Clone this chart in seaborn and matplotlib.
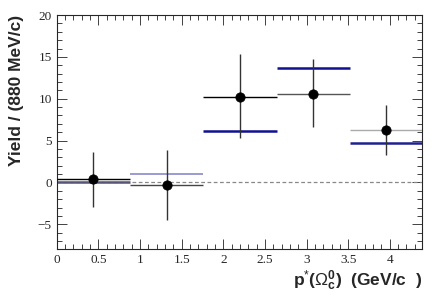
import numpy as np
import matplotlib.pyplot as plt
import seaborn as sns
from matplotlib.ticker import MultipleLocator, FormatStrFormatter

# bin edges in p* (GeV/c), 880 MeV/c wide
bin_lo = [0.00, 0.88, 1.76, 2.64, 3.52]
bin_hi = [0.88, 1.76, 2.64, 3.52, 4.40]
p_center = [0.44, 1.32, 2.20, 3.08, 3.96]

# measured yield with asymmetric errors
yield_data = [0.35, -0.3, 10.2, 10.6, 6.3]
err_low = [3.25, 4.2, 4.9, 4.0, 3.0]
err_high = [3.25, 4.2, 5.1, 4.1, 3.0]

# expectation (blue histogram)
yield_model = [0.05, 1.0, 6.1, 13.7, 4.7]

sns.set_style('ticks')
plt.rcParams['font.family'] = ['Liberation Serif', 'DejaVu Serif']
plt.rcParams['mathtext.fontset'] = 'custom'
plt.rcParams['mathtext.rm'] = 'Liberation Sans'
plt.rcParams['mathtext.it'] = 'Liberation Sans'
plt.rcParams['mathtext.bf'] = 'Liberation Sans:bold'

fig = plt.figure(figsize=(4.41, 2.99), dpi=100)
ax = fig.add_axes([0.1286, 0.166, 0.829, 0.7836])

ax.axhline(0, color='#888888', ls=(0, (3, 2)), lw=0.9, zorder=1)

model_colors = ['#555577', '#8080c8', '#101090', '#101090', '#202090']
data_colors = ['#000000', '#444444', '#000000', '#555555', '#aaaaaa']
for lo, hi, m, d, mc, dc in zip(bin_lo, bin_hi, yield_model, yield_data,
                                model_colors, data_colors):
    ax.hlines(m, lo, hi, color=mc, lw=1.8 if mc != '#8080c8' else 1.1, zorder=2)
    ax.hlines(d, lo, hi, color=dc, lw=1.0, zorder=3)

ax.errorbar(p_center, yield_data, yerr=[err_low, err_high], fmt='none',
            ecolor='#333333', elinewidth=1.0, capsize=0, zorder=3)
sns.scatterplot(x=p_center, y=yield_data, color='black', s=45,
                edgecolor='black', zorder=4, ax=ax)

ax.set_xlim(0, 4.39)
ax.set_ylim(-8, 20)
ax.xaxis.set_major_locator(MultipleLocator(0.5))
ax.xaxis.set_minor_locator(MultipleLocator(0.1))
ax.xaxis.set_major_formatter(FormatStrFormatter('%g'))
ax.yaxis.set_major_locator(MultipleLocator(5))
ax.yaxis.set_minor_locator(MultipleLocator(1))
ax.tick_params(which='both', direction='in', top=True, right=True,
               labelsize=9.5, width=0.6, color='#222222')
ax.tick_params(which='major', length=7)
ax.tick_params(which='minor', length=3.5)
for s in ax.spines.values():
    s.set_linewidth(0.8)

ax.set_ylabel('Yield / (880 MeV/c)', family='Liberation Sans', fontweight='bold',
              fontsize=12.5, loc='top', labelpad=10)
ax.set_xlabel(r'p$^{*}$($\Omega_{\mathbf{c}}^{\mathbf{0}}$)  (GeV/c  )',
              family='Liberation Sans', fontweight='bold', fontsize=12.5,
              loc='right', labelpad=2)

fig.savefig('out.png', dpi=100)
